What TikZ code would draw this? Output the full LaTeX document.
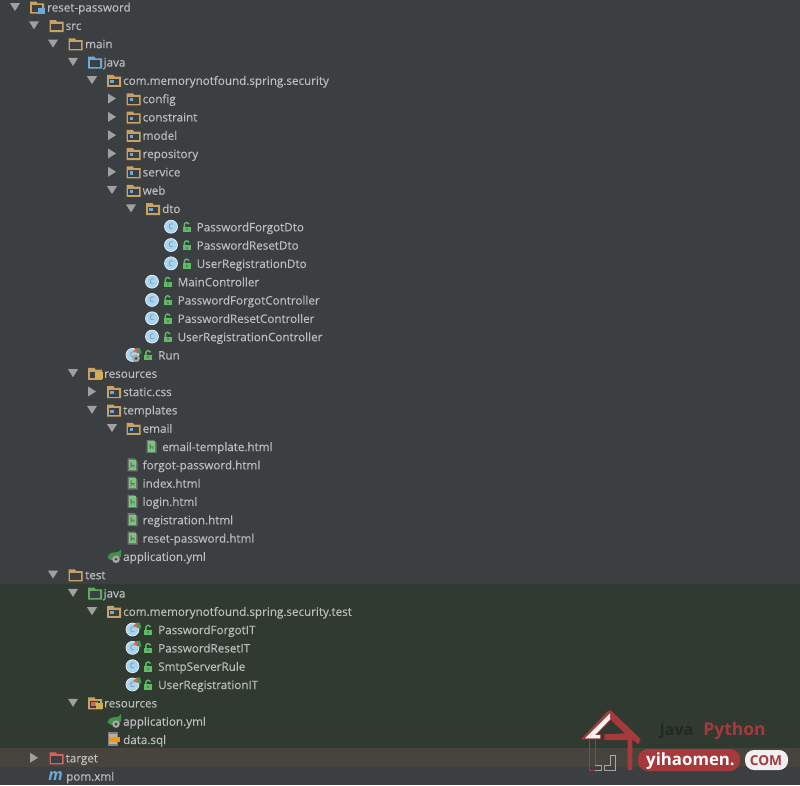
\documentclass[tikz,border=0pt]{standalone}
\usepackage{fontspec}
\setmainfont{Open Sans}
\newfontfamily\treefont[FakeBold=0.25]{Open Sans}
\definecolor{bgmain}{HTML}{3C3F41}
\definecolor{bgtest}{HTML}{303A31}
\definecolor{bgtarget}{HTML}{47443E}
\definecolor{txt}{HTML}{BDBDBD}
\definecolor{tan}{HTML}{C9A263}
\definecolor{blu}{HTML}{6AA9DA}
\definecolor{grn}{HTML}{5FA866}
\definecolor{rd}{HTML}{D9635B}
\definecolor{arr}{HTML}{A0A0A0}
\definecolor{cfill}{HTML}{A6D5F2}
\definecolor{lock}{HTML}{5BBF62}
\definecolor{logored}{HTML}{A5393C}
\tikzset{
  lbl/.style={anchor=base west,inner sep=0pt,text=txt,font=\treefont\fontsize{11.65}{14}\selectfont},
  cglyph/.style={circle,fill=cfill,draw=white!75!cfill,line width=.7pt,minimum size=13pt,inner sep=0pt,text=black!50,font=\fontsize{7.5}{8}\selectfont},
}
\newcommand\rowy[1]{\pgfmathsetmacro\ry{7+18.31*#1}}
% arrows
\newcommand\aopen[2]{\rowy{#2}\fill[arr] (#1-5,\ry-4) -- (#1+5,\ry-4) -- (#1,\ry+4) -- cycle;}
\newcommand\aclosed[2]{\rowy{#2}\fill[arr] (#1-4,\ry-5) -- (#1+4,\ry) -- (#1-4,\ry+5) -- cycle;}
% folder: left x, row, colour
\newcommand\folder[3]{\rowy{#2}
  \fill[#3] (#1,\ry-5.3) -- (#1+6.5,\ry-5.3) -- (#1+7.5,\ry-3.6) -- (#1+14,\ry-3.6) -- (#1+14,\ry+6.7) -- (#1,\ry+6.7) -- cycle;
  \fill[bgmain] (#1+1.6,\ry-1.6) rectangle (#1+12.4,\ry+5);}
\newcommand\pkg[2]{\folder{#1}{#2}{tan}\fill[blu] (#1+3.2,\ry-.3) rectangle (#1+6.6,\ry+2.8);}
\newcommand\lbl[4]{\rowy{#3}\node[lbl] (#1) at (#2,\ry+4.6) {#4};}
% class: centre x, row
\newcommand\cls[3]{\rowy{#3}\node[cglyph] (#1) at (#2,\ry) {C};
  \draw[lock,line width=1.4pt] (#2+13.3,\ry+.5) -- (#2+13.3,\ry-1.8) arc[start angle=180,end angle=340,radius=2.5];
  \fill[lock] (#2+11.8,\ry) rectangle (#2+19.6,\ry+5.4);
  \fill[black!55] (#2+14.8,\ry+1.6) rectangle (#2+16.6,\ry+3.6);}
\newcommand\badge[2]{\rowy{#2}
  \fill[lock!80!black] (#1+1.5,\ry-7) -- (#1+5,\ry-7) -- (#1+6.5,\ry-1) -- (#1+2,\ry-2) -- cycle;
  \fill[rd] (#1+2,\ry-7) -- (#1+2,\ry-2) -- (#1-2,\ry-3.5) -- cycle;}
\newcommand\gear[3]{\rowy{#2}\fill[gray!70] (#1,\ry+#3) circle (3.8);\fill[bgmain] (#1,\ry+#3) circle (1.4);}
\newcommand\html[2]{\rowy{#2}
  \fill[black!55] (#1-5,\ry-6.5) -- (#1+2,\ry-6.5) -- (#1+5,\ry-3.5) -- (#1+5,\ry+6.5) -- (#1-5,\ry+6.5) -- cycle;
  \fill[lock!85!white] (#1-3.7,\ry-5) rectangle (#1+3.7,\ry+5.2);
  \fill[black!60] (#1-1.8,\ry-2.6) rectangle (#1-.8,\ry+3) (#1-1,\ry) rectangle (#1+1.8,\ry+1) (#1+1,\ry) rectangle (#1+1.9,\ry+3);}
\newcommand\spring[2]{\rowy{#2}
  \fill[lock!75!black] (#1-7.5,\ry+1) .. controls (#1-6,\ry-4) and (#1-1,\ry-4) .. (#1+1,\ry-4) .. controls (#1+3,\ry-4) and (#1+5,\ry-5) .. (#1+6,\ry-7) -- (#1+6,\ry) .. controls (#1+4,\ry+5) and (#1-5,\ry+6) .. (#1-7.5,\ry+1) -- cycle;}
\begin{document}
\begin{tikzpicture}[x=1pt,y=-1pt]
\useasboundingbox (0,0) rectangle (800,785);
\fill[bgmain] (0,0) rectangle (800,785);
\fill[bgtest] (0,584) rectangle (800,748);
\fill[bgtarget] (0,748) rectangle (800,767);

% project tree
\aopen{15}{0}\folder{30}{0}{tan}\fill[blu] (38,\ry+.5) rectangle (44.5,\ry+6.5);\lbl{n0}{47}{0}{reset-password}
\aopen{34}{1}\folder{49.5}{1}{tan}\lbl{n1}{65.5}{1}{src}
\aopen{53}{2}\folder{68.5}{2}{tan}\lbl{n2}{85}{2}{main}
\aopen{73}{3}\folder{88}{3}{blu}\lbl{n3}{103.5}{3}{java}
\aopen{92}{4}\pkg{107}{4}\lbl{n4}{123}{4}{com.memorynotfound.spring.security}
\aclosed{112}{5}\pkg{126.5}{5}\lbl{n5}{142.5}{5}{config}
\aclosed{112}{6}\pkg{126.5}{6}\lbl{n6}{142.5}{6}{constraint}
\aclosed{112}{7}\pkg{126.5}{7}\lbl{n7}{142.5}{7}{model}
\aclosed{112}{8}\pkg{126.5}{8}\lbl{n8}{142.5}{8}{repository}
\aclosed{112}{9}\pkg{126.5}{9}\lbl{n9}{142.5}{9}{service}
\aopen{112}{10}\pkg{126.5}{10}\lbl{n10}{142.5}{10}{web}
\aopen{131}{11}\pkg{146}{11}\lbl{n11}{162}{11}{dto}
\cls{c12}{171}{12}\lbl{n12}{196.5}{12}{PasswordForgotDto}
\cls{c13}{171}{13}\lbl{n13}{196.5}{13}{PasswordResetDto}
\cls{c14}{171}{14}\lbl{n14}{196.5}{14}{UserRegistrationDto}
\cls{c15}{152}{15}\lbl{n15}{177.5}{15}{MainController}
\cls{c16}{152}{16}\lbl{n16}{177.5}{16}{PasswordForgotController}
\cls{c17}{152}{17}\lbl{n17}{177.5}{17}{PasswordResetController}
\cls{c18}{152}{18}\lbl{n18}{177.5}{18}{UserRegistrationController}
\cls{c19}{132.5}{19}\badge{135}{19}\gear{136}{19}{3.5}\lbl{n19}{158}{19}{Run}
\aopen{73}{20}\folder{88}{20}{tan}\fill[tan!85!yellow] (95,\ry-1) rectangle (103,\ry+6);\lbl{n20}{104}{20}{resources}
\aclosed{92}{21}\pkg{107}{21}\lbl{n21}{123}{21}{static.css}
\aopen{92}{22}\pkg{107}{22}\lbl{n22}{123}{22}{templates}
\aopen{112}{23}\pkg{126.5}{23}\lbl{n23}{142.5}{23}{email}
\html{151.5}{24}\lbl{n24}{162}{24}{email-template.html}
\html{132.5}{25}\lbl{n25}{142.5}{25}{forgot-password.html}
\html{132.5}{26}\lbl{n26}{142.5}{26}{index.html}
\html{132.5}{27}\lbl{n27}{142.5}{27}{login.html}
\html{132.5}{28}\lbl{n28}{142.5}{28}{registration.html}
\html{132.5}{29}\lbl{n29}{142.5}{29}{reset-password.html}
\spring{115}{30}\gear{116}{30}{3}\lbl{n30}{123}{30}{application.yml}
\aopen{53}{31}\folder{68.5}{31}{tan}\lbl{n31}{85}{31}{test}
\aopen{73}{32}\folder{88}{32}{grn}\lbl{n32}{103.5}{32}{java}
\aopen{92}{33}\pkg{107}{33}\lbl{n33}{123}{33}{com.memorynotfound.spring.security.test}
\cls{c34}{132.5}{34}\badge{135}{34}\lbl{n34}{158}{34}{PasswordForgotIT}
\cls{c35}{132.5}{35}\badge{135}{35}\lbl{n35}{158}{35}{PasswordResetIT}
\cls{c36}{132.5}{36}\lbl{n36}{158}{36}{SmtpServerRule}
\cls{c37}{132.5}{37}\badge{135}{37}\lbl{n37}{158}{37}{UserRegistrationIT}
\aopen{73}{38}\folder{88}{38}{tan}\fill[rd] (91,\ry-.5) rectangle (95,\ry+3);\fill[lock] (95,\ry-.5) rectangle (98,\ry+3);\fill[tan!85!yellow] (96,\ry) rectangle (103,\ry+6);\lbl{n38}{104}{38}{resources}
\spring{115}{39}\gear{116}{39}{3}\lbl{n39}{123}{39}{application.yml}
\rowy{40}\fill[black!50] (108,\ry-7) rectangle (118,\ry+6.5);\fill[gray!60] (109,\ry-5.5) rectangle (117,\ry+5);\fill[orange!85!yellow] (109,\ry-2.5) rectangle (120,\ry+2.5);\lbl{n40}{123}{40}{data.sql}
\aclosed{34}{41}\folder{49.5}{41}{rd}\lbl{n41}{65.5}{41}{target}
\rowy{42}\node[anchor=base,inner sep=0pt,text=blu,font=\fontsize{16}{16}\itshape\bfseries\selectfont] (m42) at (55.5,\ry+4) {m};\lbl{n42}{66}{42}{pom.xml}

% watermark
\fill[logored] (581,739.3) -- (608.3,710.7) -- (611,710.7) -- (640.7,739) -- (638.3,744.3) -- (632.3,739.5) -- (632.3,770) -- (627.7,770) -- (627.7,740) -- (604.3,740) -- (604.3,734.3) -- (625,733.3) -- (611,720) -- (596.7,734.3) -- (601,734.3) -- (601,739.3) -- cycle;
\fill[white!92!gray] (585,738.3) -- (610,713.3) -- (610,719.3) -- (595,735) -- (600,735) -- (600,738.3) -- cycle;
\draw[logored,line width=.7pt] (595,740) -- (595,765.7) (589.3,739.5) -- (589.3,770) -- (595,770);
\draw[black!35,line width=.7pt] (595,770) -- (601,770) -- (601,765.7) -- (595,765.7);
\draw[black!35,line width=.7pt] (604.3,770) -- (615.7,770) -- (615.7,755.7) -- (610,755.7) -- (610,765.7) -- (604.3,765.7) -- cycle;
\fill[logored,rounded corners=10pt] (638,749) rectangle (740,771);
\node[anchor=base,inner sep=0pt,text=white,font=\fontsize{16.8}{18}\bfseries\selectfont] (brand) at (690.5,765.3) {yihaomen.};
\fill[white!88!gray,rounded corners=9pt] (745,750) rectangle (788,770);
\node[anchor=base,inner sep=0pt,text=logored,font=\fontsize{13.7}{15}\bfseries\selectfont] (tld) at (766,765) {COM};
\node[anchor=base,inner sep=0pt,text=black!30!bgtest,font=\fontsize{16}{18}\bfseries\selectfont] (wjava) at (676.5,735) {Java};
\node[anchor=base,inner sep=0pt,text=logored,font=\fontsize{17.5}{18}\bfseries\selectfont] (wpy) at (734.5,735) {Python};
\end{tikzpicture}
\end{document}
